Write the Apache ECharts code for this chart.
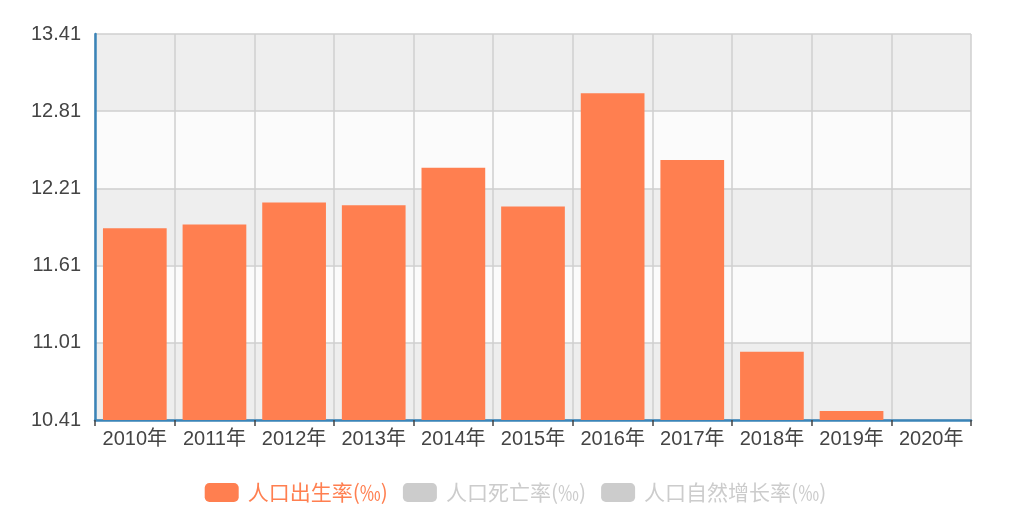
<!DOCTYPE html>
<html>
<head>
<meta charset="utf-8">
<script src="https://cdn.jsdelivr.net/npm/echarts@6/dist/echarts.min.js"></script>
<style>html,body{margin:0;padding:0;background:#fff;}#c{width:1031px;height:525px;}</style>
</head>
<body>
<div id="c"></div>
<script>
var categories = ['2010年','2011年','2012年','2013年','2014年','2015年','2016年','2017年','2018年','2019年','2020年'];
var birthRate = [11.90, 11.93, 12.10, 12.08, 12.37, 12.07, 12.95, 12.43, 10.94, 10.48, 8.52];
var deathRate = [];
var growthRate = [];
var seriesNames = ['人口出生率(‰)', '人口死亡率(‰)', '人口自然增长率(‰)'];
var axisBase = 10.41;
var axisSpan = 3.0;
var axisStep = 0.6;

function shift(arr) { return arr.map(function (v) { return +(v - axisBase).toFixed(4); }); }

var chart = echarts.init(document.getElementById('c'));
var font = 'Liberation Sans, Arial, "Noto Sans CJK SC", sans-serif';
chart.setOption({
  animation: false,
  color: ['#ff7f50', '#87cefa', '#da70d6'],
  grid: { left: 95, right: 60, top: 34, bottom: 105 },
  legend: {
    data: seriesNames,
    bottom: 17,
    left: 'center',
    icon: 'roundRect',
    itemWidth: 34,
    itemHeight: 19,
    itemGap: 15,
    textStyle: { fontSize: 21, color: 'inherit', fontFamily: '"Noto Sans CJK SC", sans-serif', padding: [0, 0, 0, 4] },
    inactiveColor: '#ccc',
    selected: { '人口出生率(‰)': true, '人口死亡率(‰)': false, '人口自然增长率(‰)': false }
  },
  xAxis: {
    type: 'category',
    data: categories,
    axisLine: { lineStyle: { color: '#3a84b8', width: 2.5 } },
    axisTick: { show: true, length: 6, lineStyle: { color: '#444', width: 1.5 } },
    axisLabel: { interval: 0, fontSize: 20, color: '#444', margin: 9, fontFamily: font },
    splitLine: { show: true, lineStyle: { color: '#cfcfcf', width: 1.5 } }
  },
  yAxis: {
    type: 'value',
    min: 0,
    max: axisSpan,
    interval: axisStep,
    axisLine: { show: true, lineStyle: { color: '#3a84b8', width: 2.5 } },
    axisTick: { show: false },
    axisLabel: {
      fontSize: 20, color: '#444', margin: 14, fontFamily: font,
      formatter: function (v) { return (v + axisBase).toFixed(2); }
    },
    splitLine: { show: true, lineStyle: { color: '#cfcfcf', width: 1.5 } },
    splitArea: { show: true, areaStyle: { color: ['#eeeeee', '#fbfbfb'] } }
  },
  series: [
    { name: seriesNames[0], type: 'bar', data: shift(birthRate), barCategoryGap: '20%', clip: true },
    { name: seriesNames[1], type: 'bar', data: shift(deathRate), clip: true },
    { name: seriesNames[2], type: 'bar', data: shift(growthRate), clip: true }
  ]
});
</script>
</body>
</html>
